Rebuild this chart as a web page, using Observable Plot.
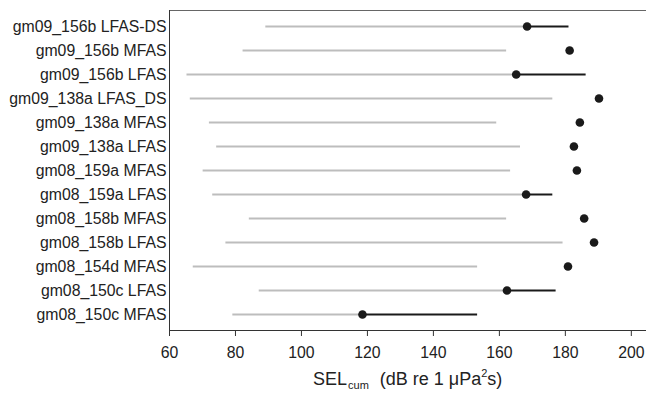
<!DOCTYPE html>
<html>
<head>
<meta charset="utf-8">
<script src="https://cdn.jsdelivr.net/npm/d3@7"></script>
<script src="https://cdn.jsdelivr.net/npm/@observablehq/plot@0.6"></script>
<style>
  html, body { margin: 0; padding: 0; background: #fff; }
  #chart svg { display: block; }
</style>
</head>
<body>
<div id="chart"></div>
<script>
const labels = [
  "gm09_156b LFAS-DS", "gm09_156b MFAS", "gm09_156b LFAS", "gm09_138a LFAS_DS",
  "gm09_138a MFAS", "gm09_138a LFAS", "gm08_159a MFAS", "gm08_159a LFAS",
  "gm08_158b MFAS", "gm08_158b LFAS", "gm08_154d MFAS", "gm08_150c LFAS", "gm08_150c MFAS"
];
const grayStart = [89.2, 82.3, 65.3, 66.3, 72.1, 74.3, 70.2, 73.1, 84.2, 77.1, 67.2, 87.2, 79.2];
const grayEnd   = [168.4, 162.2, 165.1, 176.2, 159.2, 166.4, 163.4, 168.1, 162.2, 179.3, 153.4, 162.3, 118.5];
const dotValue  = [168.4, 181.3, 165.1, 190.2, 184.4, 182.6, 183.5, 168.1, 185.7, 188.7, 180.8, 162.3, 118.5];
const blackEnd  = [181.1, null, 186.3, null, null, null, null, 176.2, null, null, null, 177.2, 153.4];
const xTicks = [60, 80, 100, 120, 140, 160, 180, 200];

const rows = labels.map((label, i) => ({
  label, start: grayStart[i], end: grayEnd[i], dot: dotValue[i], bend: blackEnd[i]
}));
const blackRows = rows.filter(d => d.bend != null);

const chart = Plot.plot({
  width: 646,
  height: 399,
  marginLeft: 169,
  marginRight: 0,
  marginTop: 10,
  marginBottom: 69,
  style: { fontFamily: "'Liberation Sans', Arial, sans-serif", fontSize: "15.8px", color: "#222", background: "#fff" },
  x: { domain: [60, 204.6], ticks: xTicks, label: null },
  y: { type: "point", domain: labels, padding: 0.5, label: null },
  marks: [
    Plot.ruleY(rows, { y: "label", x1: "start", x2: "end", stroke: "#bdbdbd", strokeWidth: 2.2 }),
    Plot.ruleY(blackRows, { y: "label", x1: "dot", x2: "bend", stroke: "#1a1a1a", strokeWidth: 2 }),
    Plot.dot(rows, { y: "label", x: "dot", r: 4.3, fill: "#1a1a1a", stroke: "none" }),
    Plot.axisY({ tickSize: 0, tickPadding: 3, label: null, fill: "#222" }),
    Plot.axisX({ ticks: xTicks, tickSize: 6, tickPadding: 10, label: null, stroke: "#333", fill: "#222" }),
    Plot.frame({ anchor: "top", stroke: "#666" }),
    Plot.frame({ anchor: "left", stroke: "#333" }),
    Plot.frame({ anchor: "bottom", stroke: "#333" })
  ]
});
document.getElementById("chart").appendChild(chart);

// x-axis title with subscript and superscript
const svg = d3.select(chart);
const t = svg.append("text")
  .attr("x", 313)
  .attr("y", 385)
  .attr("text-anchor", "start")
  .attr("fill", "#222")
  .style("font-family", "'Liberation Sans', Arial, sans-serif")
  .style("font-size", "18px");
t.append("tspan").text("SEL");
t.append("tspan").attr("dy", 4).attr("dx", 1).style("font-size", "11px").text("cum");
t.append("tspan").attr("dy", -4).attr("dx", 6).text(" (dB re 1 \u03bcPa");
t.append("tspan").attr("dy", -8).attr("dx", 0).style("font-size", "11px").text("2");
t.append("tspan").attr("dy", 8).attr("dx", 0).text("s)");
</script>
</body>
</html>
